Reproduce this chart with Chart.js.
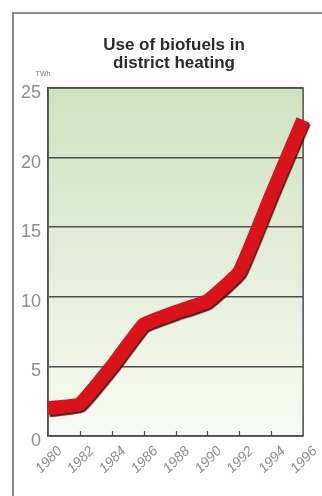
<!DOCTYPE html>
<html>
<head>
<meta charset="utf-8">
<script src="https://cdn.jsdelivr.net/npm/chart.js@4/dist/chart.umd.min.js"></script>
<style>
  html, body { margin: 0; padding: 0; background: #ffffff; }
  #wrap { width: 322px; height: 496px; position: relative; }
  canvas { display: block; }
</style>
</head>
<body>
<div id="wrap"><canvas id="c" width="322" height="496"></canvas></div>
<script>
// ---- data ----
const titleLines = ['Use of biofuels in', 'district heating'];
const unitLabel = 'TWh';
const years = [1980, 1982, 1984, 1986, 1988, 1990, 1992, 1994, 1996];
const useTWh = [2.0, 2.3, 5.0, 8.0, 8.9, 9.7, 11.8, 17.3, 22.7];
const xTickLabels = ['1980', '1982', '1984', '1986', '1988', '1990', '1992', '1994', '1996'];
const yTickLabels = ['0', '5', '10', '15', '20', '25'];

const points = years.map((y, i) => ({ x: y, y: useTWh[i] }));

const decor = {
  id: 'decor',
  beforeDraw(chart) {
    const ctx = chart.ctx;
    const a = chart.chartArea;
    ctx.save();
    // outer frame (top & left)
    ctx.strokeStyle = '#8c8c8c';
    ctx.lineWidth = 2;
    ctx.beginPath();
    ctx.moveTo(13, 496);
    ctx.lineTo(13, 13);
    ctx.lineTo(322, 13);
    ctx.stroke();
    // plot background gradient
    const g = ctx.createLinearGradient(0, a.top, 0, a.bottom);
    g.addColorStop(0, '#cfe2bf');
    g.addColorStop(0.5, '#e3eed9');
    g.addColorStop(1, '#f8fbf3');
    ctx.fillStyle = g;
    ctx.fillRect(a.left, a.top, a.right - a.left, a.bottom - a.top);
    // title
    ctx.fillStyle = '#2b2b2b';
    ctx.font = 'bold 17px "Liberation Sans", Arial, sans-serif';
    ctx.textAlign = 'center';
    ctx.textBaseline = 'middle';
    ctx.fillText(titleLines[0], 174, 45);
    ctx.fillText(titleLines[1], 174, 63);
    // unit label
    ctx.fillStyle = '#777';
    ctx.font = '7px "Liberation Sans", sans-serif';
    ctx.fillText(unitLabel, a.left - 5, a.top - 14);
    ctx.restore();
  },
  beforeDatasetsDraw(chart) {
    const ctx = chart.ctx, a = chart.chartArea;
    ctx.save();
    ctx.strokeStyle = '#4e4e4e';
    ctx.lineWidth = 1.5;
    ctx.strokeRect(a.left, a.top, a.right - a.left, a.bottom - a.top);
    // inner tick marks on x axis
    const xs = chart.scales.x;
    ctx.lineWidth = 1.2;
    ctx.beginPath();
    years.slice(1, -1).forEach(y => {
      const px = Math.round(xs.getPixelForValue(y)) + 0.5;
      ctx.moveTo(px, a.bottom);
      ctx.lineTo(px, a.bottom - 5);
    });
    ctx.stroke();
    ctx.restore();
  },
  beforeDatasetDraw(chart) {
    const ctx = chart.ctx;
    ctx.save();
    ctx.shadowColor = 'rgba(70,5,5,0.9)';
    ctx.shadowOffsetX = 1;
    ctx.shadowOffsetY = 2;
    ctx.shadowBlur = 1;
  },
  afterDatasetDraw(chart) {
    chart.ctx.restore();
  }
};

new Chart(document.getElementById('c'), {
  type: 'line',
  data: {
    datasets: [{
      data: points,
      borderColor: '#d8141a',
      borderWidth: 14,
      borderCapStyle: 'butt',
      borderJoinStyle: 'miter',
      pointRadius: 0,
      fill: false,
      tension: 0.1,
      clip: false
    }]
  },
  options: {
    responsive: false,
    animation: false,
    devicePixelRatio: 1,
    layout: { padding: { left: 14, right: 17, top: 88, bottom: 0 } },
    plugins: {
      legend: { display: false },
      tooltip: { enabled: false },
      title: { display: false }
    },
    scales: {
      x: {
        type: 'linear',
        min: 1980,
        max: 1996,
        afterBuildTicks(scale) {
          scale.ticks = years.map(v => ({ value: v }));
        },
        afterFit(scale) { scale.height = 60; },
        grid: { display: false, drawTicks: false },
        border: { display: false },
        ticks: {
          autoSkip: false,
          minRotation: 45,
          maxRotation: 45,
          padding: 7,
          labelOffset: 12,
          color: '#8e8e8e',
          font: { family: '"Liberation Sans Narrow", "Liberation Sans", sans-serif', size: 14, style: 'italic' },
          callback: (v, i) => xTickLabels[i]
        }
      },
      y: {
        type: 'linear',
        min: 0,
        max: 25,
        afterBuildTicks(scale) {
          scale.ticks = yTickLabels.map(t => ({ value: Number(t) }));
        },
        afterFit(scale) { scale.width = 34; },
        grid: { color: '#4e4e4e', lineWidth: 1.5, drawTicks: false },
        border: { display: true, color: '#4e4e4e', width: 1.5 },
        ticks: {
          padding: 7,
          labelOffset: 5,
          color: '#8e8e8e',
          font: { family: '"Liberation Sans Narrow", "Liberation Sans", sans-serif', size: 18 },
          callback: (v, i) => yTickLabels[i]
        }
      }
    }
  },
  plugins: [decor]
});
</script>
</body>
</html>
